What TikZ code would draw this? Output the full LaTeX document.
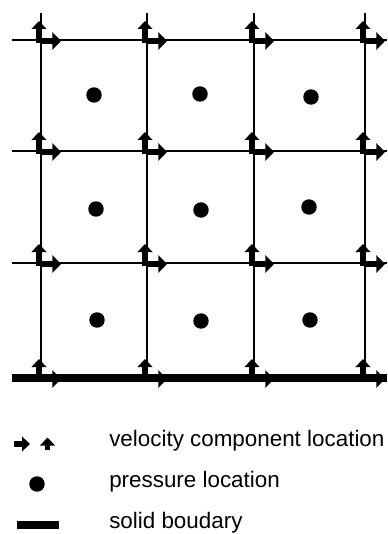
\documentclass[tikz,border=0pt]{standalone}
\usepackage{fontspec}
\setmainfont{Liberation Sans}
\usetikzlibrary{arrows.meta}

\begin{document}
\begin{tikzpicture}[x=0.75pt, y=-0.75pt,
  gridline/.style={line width=1.5pt},
  wall/.style={line width=6.2pt},
  pres/.style={circle, fill=black, inner sep=0pt, minimum size=11.6pt},
  velu/.style={line width=4pt, -{Triangle[width=11pt, length=6pt]}},
  velv/.style={line width=4pt, -{Triangle[width=13pt, length=6.5pt]}},
  legvel/.style={line width=4pt, -{Triangle[width=11pt, length=6pt]}},
  lbl/.style={anchor=base west, inner sep=0pt,
              font=\fontsize{16.8}{20}\selectfont}]
  \useasboundingbox (0,0) rectangle (387,534);
  % grid
  \draw[gridline] (41,13) -- (41,378);
  \draw[gridline] (147,13) -- (147,378);
  \draw[gridline] (254,13) -- (254,378);
  \draw[gridline] (365,13) -- (365,378);
  \draw[gridline] (12,40) -- (387,40);
  \draw[gridline] (12,151) -- (387,151);
  \draw[gridline] (12,263) -- (387,263);
  \draw[wall] (12,378) -- (387,378);
  % velocity points
  \coordinate (g11) at (41,40);
  \coordinate (g12) at (147,40);
  \coordinate (g13) at (254,40);
  \coordinate (g14) at (365,40);
  \coordinate (g21) at (41,151);
  \coordinate (g22) at (147,151);
  \coordinate (g23) at (254,151);
  \coordinate (g24) at (365,151);
  \coordinate (g31) at (41,263);
  \coordinate (g32) at (147,263);
  \coordinate (g33) at (254,263);
  \coordinate (g34) at (365,263);
  \coordinate (g41) at (41,378);
  \coordinate (g42) at (147,378);
  \coordinate (g43) at (254,378);
  \coordinate (g44) at (365,378);
  \draw[velu] ([xshift=-1.5pt,yshift=-2.25pt]g11) -- ++(0,-22);
  \draw[velv] ([xshift=-0.75pt,yshift=-0.75pt]g11) -- ++(21,0);
  \draw[velu] ([xshift=-1.5pt,yshift=-2.25pt]g12) -- ++(0,-22);
  \draw[velv] ([xshift=-0.75pt,yshift=-0.75pt]g12) -- ++(21,0);
  \draw[velu] ([xshift=-1.5pt,yshift=-2.25pt]g13) -- ++(0,-22);
  \draw[velv] ([xshift=-0.75pt,yshift=-0.75pt]g13) -- ++(21,0);
  \draw[velu] ([xshift=-1.5pt,yshift=-2.25pt]g14) -- ++(0,-22);
  \draw[velv] ([xshift=-0.75pt,yshift=-0.75pt]g14) -- ++(21,0);
  \draw[velu] ([xshift=-1.5pt,yshift=-2.25pt]g21) -- ++(0,-22);
  \draw[velv] ([xshift=-0.75pt,yshift=-0.75pt]g21) -- ++(21,0);
  \draw[velu] ([xshift=-1.5pt,yshift=-2.25pt]g22) -- ++(0,-22);
  \draw[velv] ([xshift=-0.75pt,yshift=-0.75pt]g22) -- ++(21,0);
  \draw[velu] ([xshift=-1.5pt,yshift=-2.25pt]g23) -- ++(0,-22);
  \draw[velv] ([xshift=-0.75pt,yshift=-0.75pt]g23) -- ++(21,0);
  \draw[velu] ([xshift=-1.5pt,yshift=-2.25pt]g24) -- ++(0,-22);
  \draw[velv] ([xshift=-0.75pt,yshift=-0.75pt]g24) -- ++(21,0);
  \draw[velu] ([xshift=-1.5pt,yshift=-2.25pt]g31) -- ++(0,-22);
  \draw[velv] ([xshift=-0.75pt,yshift=-0.75pt]g31) -- ++(21,0);
  \draw[velu] ([xshift=-1.5pt,yshift=-2.25pt]g32) -- ++(0,-22);
  \draw[velv] ([xshift=-0.75pt,yshift=-0.75pt]g32) -- ++(21,0);
  \draw[velu] ([xshift=-1.5pt,yshift=-2.25pt]g33) -- ++(0,-22);
  \draw[velv] ([xshift=-0.75pt,yshift=-0.75pt]g33) -- ++(21,0);
  \draw[velu] ([xshift=-1.5pt,yshift=-2.25pt]g34) -- ++(0,-22);
  \draw[velv] ([xshift=-0.75pt,yshift=-0.75pt]g34) -- ++(21,0);
  \draw[velu] ([xshift=-1.5pt,yshift=-2.25pt]g41) -- ++(0,-22);
  \draw[velv] ([xshift=-0.75pt,yshift=-0.75pt]g41) -- ++(21,0);
  \draw[velu] ([xshift=-1.5pt,yshift=-2.25pt]g42) -- ++(0,-22);
  \draw[velv] ([xshift=-0.75pt,yshift=-0.75pt]g42) -- ++(21,0);
  \draw[velu] ([xshift=-1.5pt,yshift=-2.25pt]g43) -- ++(0,-22);
  \draw[velv] ([xshift=-0.75pt,yshift=-0.75pt]g43) -- ++(21,0);
  \draw[velu] ([xshift=-1.5pt,yshift=-2.25pt]g44) -- ++(0,-22);
  \draw[velv] ([xshift=-0.75pt,yshift=-0.75pt]g44) -- ++(21,0);
  % pressure points
  \node[pres] (p11) at (94,95) {};
  \node[pres] (p12) at (200,94) {};
  \node[pres] (p13) at (311,97) {};
  \node[pres] (p21) at (96,209) {};
  \node[pres] (p22) at (201,210) {};
  \node[pres] (p23) at (309,207) {};
  \node[pres] (p31) at (97,320) {};
  \node[pres] (p32) at (201,321) {};
  \node[pres] (p33) at (310,320) {};
  % legend
  \coordinate (lu) at (14,444);
  \coordinate (lv) at (47.5,450);
  \draw[legvel] (lu) -- ++(16,0);
  \draw[legvel] (lv) -- ++(0,-12.5);
  \node[pres] (lp) at (37,484) {};
  \coordinate (lw1) at (16.5,525);
  \coordinate (lw2) at (59,525);
  \draw[wall] (lw1) -- (lw2);
  \node[lbl] (t1) at (109,446) {velocity component location};
  \node[lbl] (t2) at (109,487) {pressure location};
  \node[lbl] (t3) at (109,528) {solid boudary};
\end{tikzpicture}
\end{document}
